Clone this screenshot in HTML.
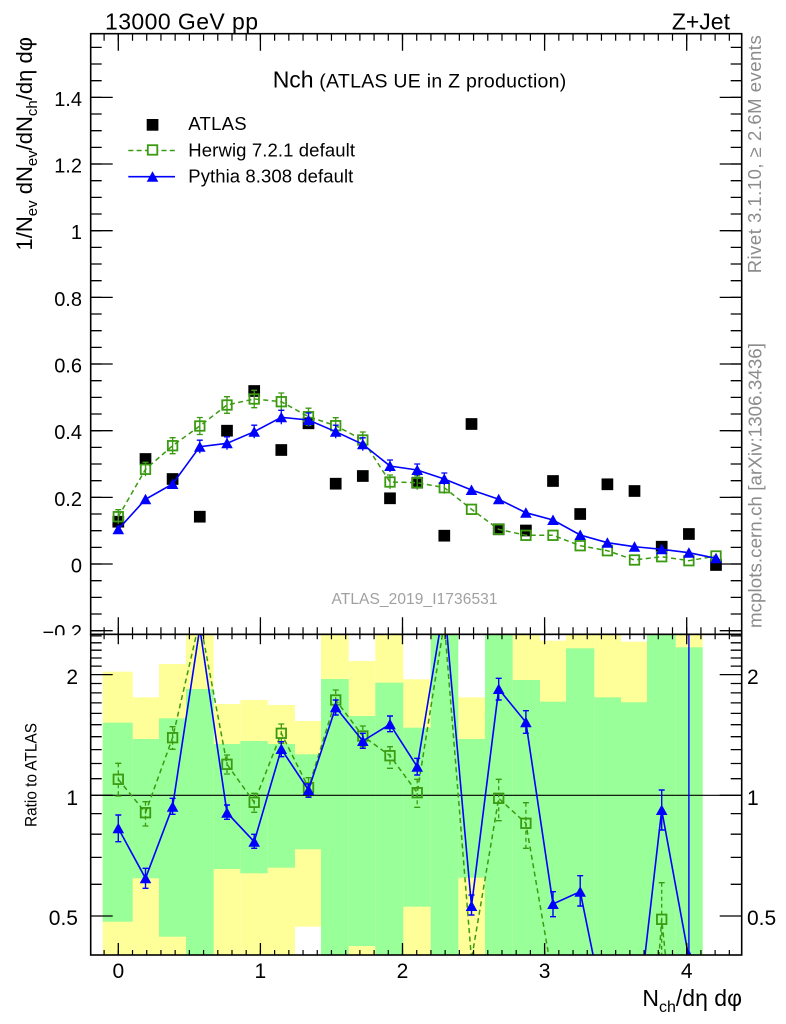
<!DOCTYPE html>
<html><head><meta charset="utf-8"><style>
html,body{margin:0;padding:0;background:#fff;width:786px;height:1024px;overflow:hidden;}
svg{display:block;overflow:hidden;font-family:"Liberation Sans",Arial,sans-serif;}
</style></head><body>
<svg width="786" height="1024" viewBox="0 0 786 1024" xmlns="http://www.w3.org/2000/svg">
<defs>
<clipPath id="cm"><rect x="90.7" y="33.7" width="651" height="600.6"/></clipPath>
<clipPath id="cr"><rect x="90.7" y="634.3" width="651" height="320.7"/></clipPath>
<rect id="hs" x="-4.75" y="-4.75" width="9.5" height="9.5" fill="none" stroke="#3a9a10" stroke-width="1.8"/>
<path id="pt" d="M0 -5.5 L5.8 5 L-5.8 5Z" fill="#0000ff"/>
<rect id="as" x="-5.85" y="-5.85" width="11.7" height="11.7" fill="#000"/>
</defs>
<rect width="786" height="1024" fill="#fff"/>

<!-- ratio bands -->
<g clip-path="url(#cr)">
<g fill="#ffff99">
<rect x="102.7" y="671.7" width="30" height="283.3"/>
<rect x="132.7" y="697.3" width="26.3" height="257.7"/>
<rect x="159" y="664" width="27" height="291"/>
<rect x="186" y="634.3" width="27.7" height="320.7"/>
<rect x="213.7" y="704" width="26.6" height="251"/>
<rect x="240.3" y="700" width="27.4" height="255"/>
<rect x="267.7" y="705" width="27.3" height="250"/>
<rect x="295" y="721" width="26" height="205.7"/>
<rect x="321" y="634.3" width="27.7" height="320.7"/>
<rect x="348.7" y="661" width="26.6" height="294"/>
<rect x="375.3" y="634.3" width="28" height="320.7"/>
<rect x="403.3" y="679.3" width="27.4" height="275.7"/>
<rect x="458.3" y="697.3" width="26.7" height="257.7"/>
<rect x="512.7" y="634.3" width="27.3" height="320.7"/>
<rect x="540" y="640.7" width="26" height="314.3"/>
<rect x="566" y="634.3" width="28.3" height="320.7"/>
<rect x="594.3" y="634.3" width="26.7" height="320.7"/>
<rect x="621" y="641.7" width="26" height="313.3"/>
<rect x="675.7" y="634.3" width="27" height="320.7"/>
</g>
<g fill="#99ff99">
<rect x="102.7" y="722.7" width="30" height="199"/>
<rect x="132.7" y="739" width="26.3" height="139.3"/>
<rect x="159" y="718.3" width="27" height="218.4"/>
<rect x="186" y="689" width="27.7" height="266"/>
<rect x="213.7" y="744" width="26.6" height="125"/>
<rect x="240.3" y="741" width="27.4" height="132.3"/>
<rect x="267.7" y="744" width="27.3" height="123.7"/>
<rect x="295" y="754.3" width="26" height="95"/>
<rect x="321" y="679" width="27.7" height="276"/>
<rect x="348.7" y="716" width="26.6" height="230"/>
<rect x="375.3" y="682.7" width="28" height="272.3"/>
<rect x="403.3" y="727.7" width="27.4" height="179"/>
<rect x="430.7" y="634.3" width="27.6" height="320.7"/>
<rect x="458.3" y="739" width="26.7" height="138.7"/>
<rect x="485" y="634.3" width="27.7" height="320.7"/>
<rect x="512.7" y="680" width="27.3" height="275"/>
<rect x="540" y="701.7" width="26" height="253.3"/>
<rect x="566" y="648.3" width="28.3" height="306.7"/>
<rect x="594.3" y="697.3" width="26.7" height="257.7"/>
<rect x="621" y="702.3" width="26" height="252.7"/>
<rect x="647" y="634.3" width="28.7" height="320.7"/>
<rect x="675.7" y="647.3" width="27" height="307.7"/>
</g>
<line x1="90.7" y1="795.3" x2="741.7" y2="795.3" stroke="#000" stroke-width="1.2"/>

<!-- ratio herwig -->
<polyline fill="none" stroke="#3a9a10" stroke-width="1.5" stroke-dasharray="5 3.5" points="118.3,779.3 145.5,812.7 172.6,737.7 199.8,620 227,764.3 254.2,802.3 281.3,733.3 308.5,787.7 335.7,700 362.8,736 390,755.7 417.2,792.7 444.3,623 471.5,959.3 498.7,798.3 525.9,823.3 553,980 580.2,970 607.4,990 656.6,990 661.7,919.3 669.1,990"/>
<path fill="none" stroke="#3a9a10" stroke-width="1.3" stroke-dasharray="4 3" d="M118.3 763.3V796M145.5 801.7V826M172.6 726.7V749.3M227 755V774M254.2 793.3V812.3M281.3 724V743.3M308.5 777.7V796.7M335.7 690V710M362.8 726V746.7M390 746.7V768.3M417.2 779.3V807.3M498.7 779.3V820.7M525.9 802.7V848.3M661.7 882.7V955"/>
<path fill="none" stroke="#3a9a10" stroke-width="1.3" d="M115.3 763.3h6M115.3 796h6M142.5 801.7h6M142.5 826h6M169.6 726.7h6M169.6 749.3h6M224 755h6M224 774h6M251.2 793.3h6M251.2 812.3h6M278.3 724h6M278.3 743.3h6M305.5 777.7h6M305.5 796.7h6M332.7 690h6M332.7 710h6M359.8 726h6M359.8 746.7h6M387 746.7h6M387 768.3h6M414.2 779.3h6M414.2 807.3h6M495.7 779.3h6M495.7 820.7h6M522.9 802.7h6M522.9 848.3h6M658.7 882.7h6"/>
<use href="#hs" x="118.3" y="779.3"/><use href="#hs" x="145.5" y="812.7"/><use href="#hs" x="172.6" y="737.7"/><use href="#hs" x="227" y="764.3"/><use href="#hs" x="254.2" y="802.3"/><use href="#hs" x="281.3" y="733.3"/><use href="#hs" x="308.5" y="787.7"/><use href="#hs" x="335.7" y="700"/><use href="#hs" x="362.8" y="736"/><use href="#hs" x="390" y="755.7"/><use href="#hs" x="417.2" y="792.7"/><use href="#hs" x="498.7" y="798.3"/><use href="#hs" x="525.9" y="823.3"/><use href="#hs" x="661.7" y="919.3"/>

<!-- ratio pythia -->
<polyline fill="none" stroke="#0000ff" stroke-width="1.6" points="118.3,828.3 145.5,878.3 172.6,806.7 199.8,628 227,812.7 254.2,841.7 281.3,749 308.5,790 335.7,707.3 362.8,741 390,724.3 417.2,766.7 444.3,604 471.5,906 498.7,689 525.9,722.3 553,904 580.2,891.7 600.2,990 641,990 661.7,810 688.9,958"/>
<path fill="none" stroke="#0000ff" stroke-width="1.4" d="M118.3 815V841.7M145.5 868.3V888.3M172.6 798.3V814.3M227 805V819.3M254.2 834.3V848.3M281.3 741.7V756.7M308.5 784V797.3M335.7 700V715M362.8 733.3V748.3M390 716V731.7M417.2 758.3V775M471.5 895V915M498.7 678.3V700M525.9 710.7V733.3M553 891.7V916.7M580.2 875.7V906M661.7 790V830M688.9 634.3V955
M115.3 815h6M115.3 841.7h6M142.5 868.3h6M142.5 888.3h6M169.6 798.3h6M169.6 814.3h6M224 805h6M224 819.3h6M251.2 834.3h6M251.2 848.3h6M278.3 741.7h6M278.3 756.7h6M305.5 784h6M305.5 797.3h6M332.7 700h6M332.7 715h6M359.8 733.3h6M359.8 748.3h6M387 716h6M387 731.7h6M414.2 758.3h6M414.2 775h6M468.5 895h6M468.5 915h6M495.7 678.3h6M495.7 700h6M522.9 710.7h6M522.9 733.3h6M550 891.7h6M550 916.7h6M577.2 875.7h6M577.2 906h6M658.7 790h6M658.7 830h6"/>
<use href="#pt" x="118.3" y="828.3"/><use href="#pt" x="145.5" y="878.3"/><use href="#pt" x="172.6" y="806.7"/><use href="#pt" x="227" y="812.7"/><use href="#pt" x="254.2" y="841.7"/><use href="#pt" x="281.3" y="749"/><use href="#pt" x="308.5" y="790"/><use href="#pt" x="335.7" y="707.3"/><use href="#pt" x="362.8" y="741"/><use href="#pt" x="390" y="724.3"/><use href="#pt" x="417.2" y="766.7"/><use href="#pt" x="471.5" y="906"/><use href="#pt" x="498.7" y="689"/><use href="#pt" x="525.9" y="722.3"/><use href="#pt" x="553" y="904"/><use href="#pt" x="580.2" y="891.7"/><use href="#pt" x="661.7" y="810"/><use href="#pt" x="688.9" y="955.5"/>
</g>

<!-- main panel data -->
<g clip-path="url(#cm)">
<use href="#as" x="118.3" y="521.7"/><use href="#as" x="145.5" y="459"/><use href="#as" x="172.6" y="479"/><use href="#as" x="199.8" y="516.7"/><use href="#as" x="227" y="430.7"/><use href="#as" x="254.2" y="391"/><use href="#as" x="281.3" y="450"/><use href="#as" x="308.5" y="423.3"/><use href="#as" x="335.7" y="483.7"/><use href="#as" x="362.8" y="476"/><use href="#as" x="390" y="498.3"/><use href="#as" x="417.2" y="482.7"/><use href="#as" x="444.3" y="535.7"/><use href="#as" x="471.5" y="424"/><use href="#as" x="498.7" y="529.3"/><use href="#as" x="525.9" y="530.5"/><use href="#as" x="553" y="481"/><use href="#as" x="580.2" y="514"/><use href="#as" x="607.4" y="484.3"/><use href="#as" x="634.5" y="491"/><use href="#as" x="661.7" y="546.7"/><use href="#as" x="688.9" y="534"/><use href="#as" x="716" y="565"/>

<polyline fill="none" stroke="#3a9a10" stroke-width="1.5" stroke-dasharray="5 3.5" points="118.3,516.7 145.5,469.3 172.6,445.7 199.8,426 227,405 254.2,399 281.3,401.7 308.5,416.7 335.7,425.7 362.8,440 390,482 417.2,482.7 444.3,487.7 471.5,509.3 498.7,529.3 525.9,535.3 553,535.3 580.2,545.7 607.4,550.7 634.5,560 661.7,556.7 688.9,560.7 716,556"/>
<path fill="none" stroke="#3a9a10" stroke-width="1.3" d="M118.3 509.7V523.7M145.5 462.3V476.3M172.6 437.7V453.7M199.8 417.5V434.5M227 396.7V413.3M254.2 390.3V407.7M281.3 393V410.4M308.5 408.2V425.2M335.7 417.7V433.7M362.8 432V448M390 475V489M417.2 475.7V489.7M444.3 481.7V493.7
M115.3 509.7h6M142.5 462.3h6M169.6 437.7h6M196.8 417.5h6M224 396.7h6M251.2 390.3h6M278.3 393h6M305.5 408.2h6M332.7 417.7h6M359.8 432h6M387 475h6M414.2 475.7h6M441.3 481.7h6
M169.6 453.7h6M196.8 434.5h6M224 413.3h6M251.2 407.7h6M278.3 410.4h6M305.5 425.2h6M332.7 433.7h6M359.8 448h6"/>
<use href="#hs" x="118.3" y="516.7"/><use href="#hs" x="145.5" y="469.3"/><use href="#hs" x="172.6" y="445.7"/><use href="#hs" x="199.8" y="426"/><use href="#hs" x="227" y="405"/><use href="#hs" x="254.2" y="399"/><use href="#hs" x="281.3" y="401.7"/><use href="#hs" x="308.5" y="416.7"/><use href="#hs" x="335.7" y="425.7"/><use href="#hs" x="362.8" y="440"/><use href="#hs" x="390" y="482"/><use href="#hs" x="417.2" y="482.7"/><use href="#hs" x="444.3" y="487.7"/><use href="#hs" x="471.5" y="509.3"/><use href="#hs" x="498.7" y="529.3"/><use href="#hs" x="525.9" y="535.3"/><use href="#hs" x="553" y="535.3"/><use href="#hs" x="580.2" y="545.7"/><use href="#hs" x="607.4" y="550.7"/><use href="#hs" x="634.5" y="560"/><use href="#hs" x="661.7" y="556.7"/><use href="#hs" x="688.9" y="560.7"/><use href="#hs" x="716" y="556"/>

<polyline fill="none" stroke="#0000ff" stroke-width="1.6" points="118.3,529.3 145.5,499.3 172.6,484 199.8,446.7 227,443.3 254.2,431.7 281.3,417.3 308.5,420 335.7,431.7 362.8,444.3 390,466 417.2,470 444.3,479 471.5,490 498.7,499.3 525.9,512.7 553,520 580.2,535 607.4,542.7 634.5,546.7 661.7,549.3 688.9,552.7 716,558.3"/>
<path fill="none" stroke="#0000ff" stroke-width="1.3" d="M199.8 440.2V453.2M227 436.8V449.8M254.2 425.2V438.2M281.3 410.3V424.3M308.5 413V427M335.7 425.2V438.2M362.8 437.8V450.8M390 460V472M417.2 464V476M444.3 473V485
M196.8 440.2h6M224 436.8h6M251.2 425.2h6M278.3 410.3h6M305.5 413h6M332.7 425.2h6M359.8 437.8h6M387 460h6M414.2 464h6M441.3 473h6"/>
<use href="#pt" x="118.3" y="529.3"/><use href="#pt" x="145.5" y="499.3"/><use href="#pt" x="172.6" y="484"/><use href="#pt" x="199.8" y="446.7"/><use href="#pt" x="227" y="443.3"/><use href="#pt" x="254.2" y="431.7"/><use href="#pt" x="281.3" y="417.3"/><use href="#pt" x="308.5" y="420"/><use href="#pt" x="335.7" y="431.7"/><use href="#pt" x="362.8" y="444.3"/><use href="#pt" x="390" y="466"/><use href="#pt" x="417.2" y="470"/><use href="#pt" x="444.3" y="479"/><use href="#pt" x="471.5" y="490"/><use href="#pt" x="498.7" y="499.3"/><use href="#pt" x="525.9" y="512.7"/><use href="#pt" x="553" y="520"/><use href="#pt" x="580.2" y="535"/><use href="#pt" x="607.4" y="542.7"/><use href="#pt" x="634.5" y="546.7"/><use href="#pt" x="661.7" y="549.3"/><use href="#pt" x="688.9" y="552.7"/><use href="#pt" x="716" y="558.3"/>
</g>

<!-- ticks -->
<g stroke="#000" fill="none">
<line x1="96.2" y1="631.35" x2="96.2" y2="34" stroke-width="11" stroke-dasharray="1.3 15.367"/>
<line x1="101.7" y1="631.35" x2="101.7" y2="34" stroke-width="22" stroke-dasharray="1.3 65.367"/>
<line x1="736.2" y1="631.35" x2="736.2" y2="34" stroke-width="11" stroke-dasharray="1.3 15.367"/>
<line x1="730.7" y1="631.35" x2="730.7" y2="34" stroke-width="22" stroke-dasharray="1.3 65.367"/>
<line x1="103.5" y1="37.2" x2="741" y2="37.2" stroke-width="7" stroke-dasharray="1.2 13.01"/>
<line x1="103.5" y1="630.8" x2="741" y2="630.8" stroke-width="7" stroke-dasharray="1.2 13.01"/>
<line x1="103.5" y1="636.8" x2="741" y2="636.8" stroke-width="5" stroke-dasharray="1.2 13.01"/>
<line x1="103.5" y1="952.5" x2="741" y2="952.5" stroke-width="5" stroke-dasharray="1.2 13.01"/>
<path stroke-width="1.3" d="M118.3 33.7v17M260.4 33.7v17M402.5 33.7v17M544.6 33.7v17M686.7 33.7v17
M118.3 634.3v-17M260.4 634.3v-17M402.5 634.3v-17M544.6 634.3v-17M686.7 634.3v-17
M118.3 634.3v10M260.4 634.3v10M402.5 634.3v10M544.6 634.3v10M686.7 634.3v10
M118.3 955v-12M260.4 955v-12M402.5 955v-12M544.6 955v-12M686.7 955v-12"/>
<path stroke-width="1.3" d="M90.7 884.3h11M90.7 857.4h11M90.7 834.2h11M90.7 813.6h11M90.7 778.7h11M90.7 763.5h11M90.7 749.6h11M90.7 736.7h11M90.7 724.7h11M90.7 713.4h11M90.7 702.9h11M90.7 692.9h11M90.7 683.5h11M90.7 666.1h11M90.7 658h11M90.7 650.2h11M90.7 642.8h11M90.7 635.9h11
M90.7 916h22M90.7 795.3h22M90.7 674.6h22
M741.7 884.3h-11M741.7 857.4h-11M741.7 834.2h-11M741.7 813.6h-11M741.7 778.7h-11M741.7 763.5h-11M741.7 749.6h-11M741.7 736.7h-11M741.7 724.7h-11M741.7 713.4h-11M741.7 702.9h-11M741.7 692.9h-11M741.7 683.5h-11M741.7 666.1h-11M741.7 658h-11M741.7 650.2h-11M741.7 642.8h-11M741.7 635.9h-11
M741.7 916h-22M741.7 795.3h-22M741.7 674.6h-22"/>
</g>

<!-- frames -->
<rect x="90.7" y="33.7" width="651" height="600.6" fill="none" stroke="#000" stroke-width="1.6"/>
<rect x="90.7" y="634.3" width="651" height="320.7" fill="none" stroke="#000" stroke-width="1.6"/>

<!-- legend -->
<rect x="146.7" y="119" width="11.7" height="11.7" fill="#000"/>
<line x1="128.3" y1="150.5" x2="175" y2="150.5" stroke="#3a9a10" stroke-width="1.5" stroke-dasharray="5 3.3"/>
<rect x="147.8" y="145.2" width="9.5" height="9.5" fill="#fff" stroke="#3a9a10" stroke-width="1.8"/>
<line x1="128.3" y1="176.7" x2="175" y2="176.7" stroke="#0000ff" stroke-width="1.6"/>
<path d="M152.5 171.2 L158.3 181.7 L146.7 181.7Z" fill="#0000ff"/>
<g font-size="18.5" fill="#000">
<text x="188.3" y="130" textLength="58.3">ATLAS</text>
<text x="188.3" y="156.7" textLength="166.7">Herwig 7.2.1 default</text>
<text x="188.3" y="182.7" textLength="165">Pythia 8.308 default</text>
</g>

<!-- titles -->
<text x="105" y="29.3" font-size="23" textLength="153">13000 GeV pp</text>
<text x="730" y="29.3" font-size="23" text-anchor="end">Z+Jet</text>
<text x="272.7" y="87.7" font-size="23">Nch</text>
<text x="319.3" y="87.7" font-size="19.5" textLength="247">(ATLAS UE in Z production)</text>
<text x="331.5" y="604" font-size="15.5" fill="#a0a0a0" textLength="166">ATLAS_2019_I1736531</text>

<!-- main y labels -->
<g font-size="20" text-anchor="end">
<text x="82" y="105.8">1.4</text>
<text x="82" y="172.5">1.2</text>
<text x="82" y="239.2">1</text>
<text x="82" y="305.8">0.8</text>
<text x="82" y="372.5">0.6</text>
<text x="82" y="439.2">0.4</text>
<text x="82" y="505.8">0.2</text>
<text x="82" y="572.5">0</text>
<text x="82" y="639.2">−0.2</text>
</g>
<rect x="0" y="635.2" width="89.8" height="25" fill="#fff"/>

<!-- ratio labels -->
<g font-size="21">
<text x="78" y="684" text-anchor="end">2</text>
<text x="78" y="805" text-anchor="end">1</text>
<text x="78" y="925" text-anchor="end">0.5</text>
<text x="747" y="684">2</text>
<text x="747" y="805">1</text>
<text x="747" y="925">0.5</text>
</g>
<g font-size="21" text-anchor="middle">
<text x="118.3" y="978">0</text>
<text x="260.4" y="978">1</text>
<text x="402.5" y="978">2</text>
<text x="544.6" y="978">3</text>
<text x="686.7" y="978">4</text>
</g>

<!-- axis titles -->
<text x="742" y="1006" font-size="23" text-anchor="end">N<tspan font-size="16" dy="6">ch</tspan><tspan dy="-6">/dη dφ</tspan></text>
<text transform="translate(32,250.5) rotate(-90)" font-size="22">1/N<tspan font-size="15" dy="5">ev</tspan><tspan dy="-5"> dN</tspan><tspan font-size="15" dy="5">ev</tspan><tspan dy="-5">/dN</tspan><tspan font-size="15" dy="5">ch</tspan><tspan dy="-5">/dη dφ</tspan></text>
<text transform="translate(36.5,827) rotate(-90)" font-size="17" textLength="104" lengthAdjust="spacingAndGlyphs">Ratio to ATLAS</text>
<text transform="translate(761,273.3) rotate(-90)" font-size="18.5" fill="#8c8c8c" textLength="238">Rivet 3.1.10, ≥ 2.6M events</text>
<text transform="translate(761.5,628) rotate(-90)" font-size="18.7" fill="#8c8c8c" textLength="285">mcplots.cern.ch [arXiv:1306.3436]</text>
</svg>
</body></html>
